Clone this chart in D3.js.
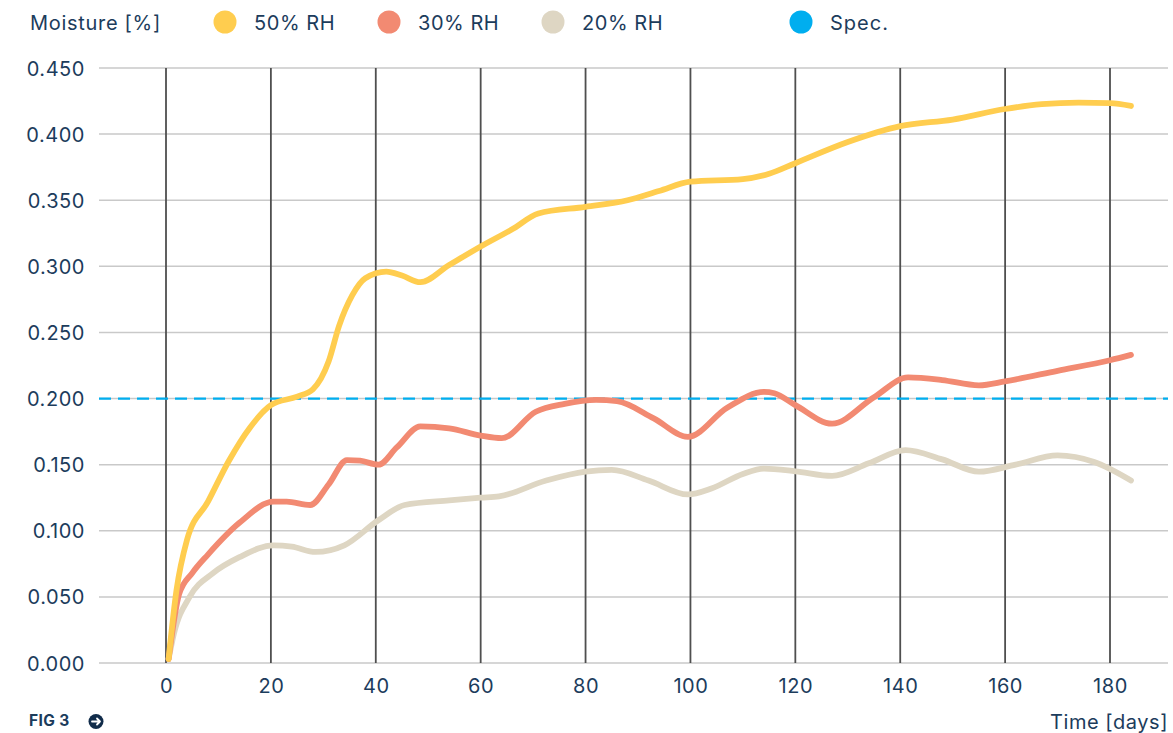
<!DOCTYPE html>
<html>
<head>
<meta charset="utf-8">
<script src="https://cdn.jsdelivr.net/npm/d3@7"></script>
<style>
  html, body { margin: 0; padding: 0; background: #fff; }
  svg { display: block; }
  text { font-family: Inter, "Open Sans", sans-serif; fill: #1c3c5c; }
</style>
</head>
<body>
<svg id="chart" width="1173" height="733"></svg>
<script>
// ---- data ----
const seriesNames = ["50% RH", "30% RH", "20% RH"];
const seriesColors = ["#ffcd4f", "#f28a72", "#ded6c3"];
const specLabel = "Spec.";
const specValue = 0.2;
const specColor = "#00aeef";
const yTicks = [0, 0.05, 0.1, 0.15, 0.2, 0.25, 0.3, 0.35, 0.4, 0.45];
const xTicks = [0, 20, 40, 60, 80, 100, 120, 140, 160, 180];

const rh50Days = [0.5, 2, 4, 8, 12, 16, 20, 25, 28, 31, 33, 35.5, 38, 42, 45, 48.5, 54, 60, 66, 71, 80, 88, 94, 100, 110, 115, 120, 130, 140, 150, 160, 167, 174, 180, 184];
const rh50Vals = [0.003, 0.055, 0.093, 0.122, 0.153, 0.178, 0.195, 0.2015, 0.207, 0.228, 0.255, 0.278, 0.291, 0.296, 0.293, 0.288, 0.301, 0.315, 0.328, 0.340, 0.345, 0.350, 0.357, 0.364, 0.366, 0.370, 0.378, 0.394, 0.406, 0.411, 0.419, 0.4226, 0.4238, 0.4234, 0.4213];

const rh30Days = [0.5, 2.5, 5, 8, 14, 20.5, 23, 27.5, 31, 34.5, 37, 40.5, 44, 48.5, 54, 60, 64, 70.5, 76, 82, 86, 93, 99.5, 107, 114, 116, 120, 127, 135, 141.5, 148, 155, 160, 170, 180, 184];
const rh30Vals = [0.003, 0.052, 0.068, 0.082, 0.106, 0.122, 0.122, 0.1195, 0.135, 0.1535, 0.153, 0.150, 0.163, 0.179, 0.1775, 0.172, 0.170, 0.190, 0.196, 0.199, 0.198, 0.185, 0.171, 0.193, 0.205, 0.204, 0.195, 0.181, 0.201, 0.216, 0.214, 0.210, 0.213, 0.221, 0.229, 0.233];

const rh20Days = [0.5, 1.5, 4.5, 9, 14, 20.5, 24, 28.5, 34, 40.5, 45.5, 54, 60, 63.5, 72.5, 80, 85, 92, 99.5, 104, 110, 114, 120, 127, 134, 141, 148, 155, 162, 170, 177, 184];
const rh20Vals = [0.003, 0.022, 0.050, 0.068, 0.080, 0.089, 0.088, 0.084, 0.089, 0.108, 0.1195, 0.123, 0.125, 0.126, 0.138, 0.1447, 0.146, 0.138, 0.1275, 0.132, 0.143, 0.147, 0.145, 0.1415, 0.151, 0.161, 0.154, 0.1447, 0.150, 0.157, 0.152, 0.138];

const seriesDays = [rh50Days, rh30Days, rh20Days];
const seriesVals = [rh50Vals, rh30Vals, rh20Vals];

// ---- layout ----
const svg = d3.select("#chart");
const W = 1173, H = 733;
const FS = 20, LS = "0.55px";
svg.append("rect").attr("width", W).attr("height", H).attr("fill", "#fff");

const plotL = 99, plotR = 1168;
const x = d3.scaleLinear().domain([0, 180]).range([166, 1110]);
const y = d3.scaleLinear().domain([0, 0.45]).range([663, 68]);

// horizontal gridlines
svg.append("g").selectAll("line").data(yTicks).join("line")
  .attr("x1", plotL).attr("x2", plotR)
  .attr("y1", d => y(d)).attr("y2", d => y(d))
  .attr("stroke", "#c9c9c9").attr("stroke-width", 1.5);

// vertical lines
svg.append("g").selectAll("line").data(xTicks).join("line")
  .attr("x1", d => x(d)).attr("x2", d => x(d))
  .attr("y1", y(0.45)).attr("y2", y(0))
  .attr("stroke", "#4f4f4f").attr("stroke-width", 1.8);

// y axis labels
const yAxis = d3.axisLeft(y).tickValues(yTicks).tickFormat(d3.format(".3f")).tickSize(0).tickPadding(0);
const gy = svg.append("g").attr("transform", "translate(85,0)").call(yAxis);
gy.select(".domain").remove();
gy.selectAll("text").attr("font-size", FS).attr("font-family", "Inter, sans-serif").attr("fill", "#1c3c5c")
  .attr("letter-spacing", LS).attr("dy", "0.35em");

// x axis labels
const xAxis = d3.axisBottom(x).tickValues(xTicks).tickFormat(d3.format("d")).tickSize(0).tickPadding(0);
const gx = svg.append("g").attr("transform", "translate(0,693)").call(xAxis);
gx.select(".domain").remove();
gx.selectAll("text").attr("font-size", FS).attr("font-family", "Inter, sans-serif").attr("fill", "#1c3c5c")
  .attr("letter-spacing", LS).attr("dy", 0).attr("y", 0);

// spec line
svg.append("line")
  .attr("x1", plotL).attr("x2", plotR)
  .attr("y1", y(specValue)).attr("y2", y(specValue))
  .attr("stroke", specColor).attr("stroke-width", 2.2)
  .attr("stroke-dasharray", "12,7");

// series
const line = d3.line().x(d => x(d[0])).y(d => y(d[1])).curve(d3.curveMonotoneX);
[2, 1, 0].forEach(i => {
  const pts = seriesDays[i].map((dd, k) => [dd, seriesVals[i][k]]);
  svg.append("path").datum(pts)
    .attr("d", line)
    .attr("fill", "none")
    .attr("stroke", seriesColors[i])
    .attr("stroke-width", 5.8)
    .attr("stroke-linecap", "round")
    .attr("stroke-linejoin", "round");
});

// legend
svg.append("text").attr("x", 30).attr("y", 30).attr("font-size", FS).attr("letter-spacing", "0.7px").text("Moisture [%]");
const legendItems = [
  { name: seriesNames[0], color: seriesColors[0], cx: 225 },
  { name: seriesNames[1], color: seriesColors[1], cx: 389 },
  { name: seriesNames[2], color: seriesColors[2], cx: 553 },
  { name: specLabel, color: specColor, cx: 801 }
];
const lg = svg.append("g").selectAll("g").data(legendItems).join("g");
lg.append("circle").attr("cx", d => d.cx).attr("cy", 22).attr("r", 11.5).attr("fill", d => d.color);
lg.append("text").attr("x", d => d.cx + 29).attr("y", 30).attr("font-size", FS)
  .attr("letter-spacing", d => d.name === specLabel ? "1.0px" : LS).text(d => d.name);

// x axis title
svg.append("text").attr("x", 1168).attr("y", 729).attr("text-anchor", "end").attr("font-size", FS)
  .attr("letter-spacing", LS).text("Time [days]");

// FIG 3
svg.append("text").attr("x", 29).attr("y", 726).attr("font-size", 15.5).attr("font-weight", 700)
  .attr("letter-spacing", "0.4px").attr("fill", "#112c4a").text("FIG 3");
svg.append("circle").attr("cx", 96).attr("cy", 721.5).attr("r", 7.5).attr("fill", "#112c4a");
svg.append("path")
  .attr("d", "M92,721.5 L100,721.5 M97,718.5 L100,721.5 L97,724.5")
  .attr("stroke", "#fff").attr("stroke-width", 1.8).attr("fill", "none")
  .attr("stroke-linecap", "round").attr("stroke-linejoin", "round");
</script>
</body>
</html>
